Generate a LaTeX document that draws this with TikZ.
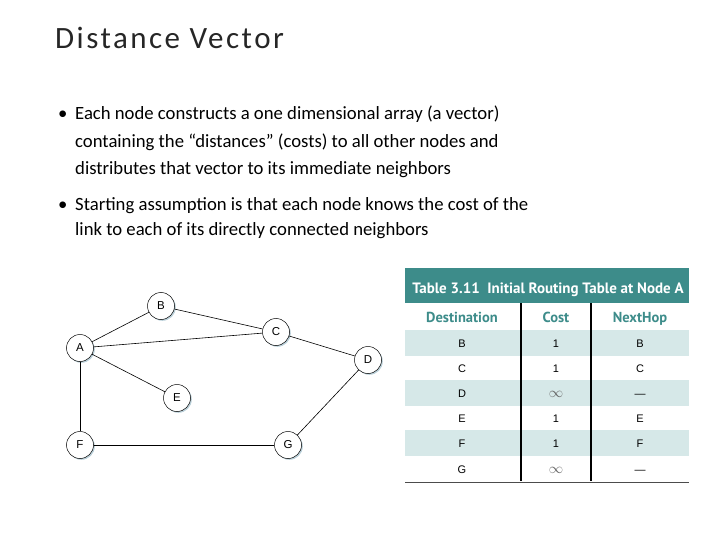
\documentclass[tikz,border=0pt]{standalone}
\usepackage{fontspec}
\setmainfont{Carlito}
\newfontfamily\helv{Liberation Sans}
\newfontfamily\tabfont{PT Sans}
\newfontfamily\titlefont[LetterSpace=8]{Carlito}
\usetikzlibrary{shadows}
\definecolor{teal1}{HTML}{3D8C8A}
\definecolor{rowshade}{HTML}{D6E8E8}
\definecolor{shadowc}{HTML}{A9C4D0}
\begin{document}
\begin{tikzpicture}[x=1pt,y=-1pt,
  gnode/.style={circle,draw=black,line width=0.5pt,fill=white,minimum size=27pt,inner sep=0pt,font=\helv\fontsize{11.5}{12}\selectfont,
    drop shadow={shadow xshift=1.3pt,shadow yshift=-1.3pt,fill=shadowc,opacity=0.8}},
  link/.style={line width=0.6pt,draw=black},
  bl/.style={anchor=base west,inner sep=0pt,font=\fontsize{18.7}{24}\selectfont},
  cell/.style={anchor=base,inner sep=0pt,font=\helv\fontsize{11}{12}\selectfont},
  colhead/.style={anchor=base,inner sep=0pt,text=teal1,font=\tabfont\bfseries\fontsize{14.5}{16}\selectfont}]
\useasboundingbox (0,0) rectangle (720,540);
% title
\node[anchor=base west,inner sep=0pt,text=black!85,font=\titlefont\fontsize{31}{32}\selectfont] (title) at (55,49) {Distance Vector};
% bullets
\node[anchor=base west,inner sep=0pt,font=\fontsize{18.7}{24}\selectfont] (b1) at (58,120) {\textbullet};
\node[bl] (l1) at (75,120) {Each node constructs a one dimensional array (a vector)};
\node[bl] (l2) at (75,148) {containing the “distances” (costs) to all other nodes and};
\node[bl] (l3) at (75,175) {distributes that vector to its immediate neighbors};
\node[anchor=base west,inner sep=0pt,font=\fontsize{18.7}{24}\selectfont] (b2) at (58,211) {\textbullet};
\node[bl] (l4) at (75,211) {Starting assumption is that each node knows the cost of the};
\node[bl] (l5) at (75,236) {link to each of its directly connected neighbors};
% graph
\node[gnode] (A) at (80,348) {A};
\node[gnode] (B) at (161,306) {B};
\node[gnode] (C) at (276,332) {C};
\node[gnode] (D) at (368,360) {D};
\node[gnode] (E) at (177,398) {E};
\node[gnode] (F) at (80,445) {F};
\node[gnode] (G) at (288,445) {G};
\draw[link] (A) -- (B);
\draw[link] (B) -- (C);
\draw[link] (A) -- (C);
\draw[link] (C) -- (D);
\draw[link] (A) -- (E);
\draw[link] (A) -- (F);
\draw[link] (F) -- (G);
\draw[link] (G) -- (D);
% table
\fill[teal1] (405,268) rectangle (689,303);
\node[anchor=base,inner sep=0pt,text=white,font=\tabfont\bfseries\fontsize{15}{16}\selectfont] (th) at (548,293) {Table 3.11\enspace Initial Routing Table at Node A};
\foreach \y in {330,380,430} \fill[rowshade] (405,\y) rectangle (689,\y+25.5);
\draw[line width=1.1pt] (521,303) -- (521,481);
\draw[line width=1.1pt] (591,303) -- (591,481);
\draw[line width=0.8pt,black!70] (405,482) -- (689,482);
\node[colhead] (h1) at (462,322) {Destination};
\node[colhead] (h2) at (556,322) {Cost};
\node[colhead] (h3) at (640,322) {NextHop};
\foreach \d/\c/\n [count=\i from 0] in {B/1/B,C/1/C,D/{\textcolor{black!60}{\Large$\infty$}}/\textemdash,E/1/E,F/1/F,G/{\textcolor{black!60}{\Large$\infty$}}/\textemdash}{
  \node[cell] at (462,347+\i*25.2) {\d};
  \node[cell] at (556,347+\i*25.2) {\c};
  \node[cell] at (640,347+\i*25.2) {\n};
}
\end{tikzpicture}
\end{document}
